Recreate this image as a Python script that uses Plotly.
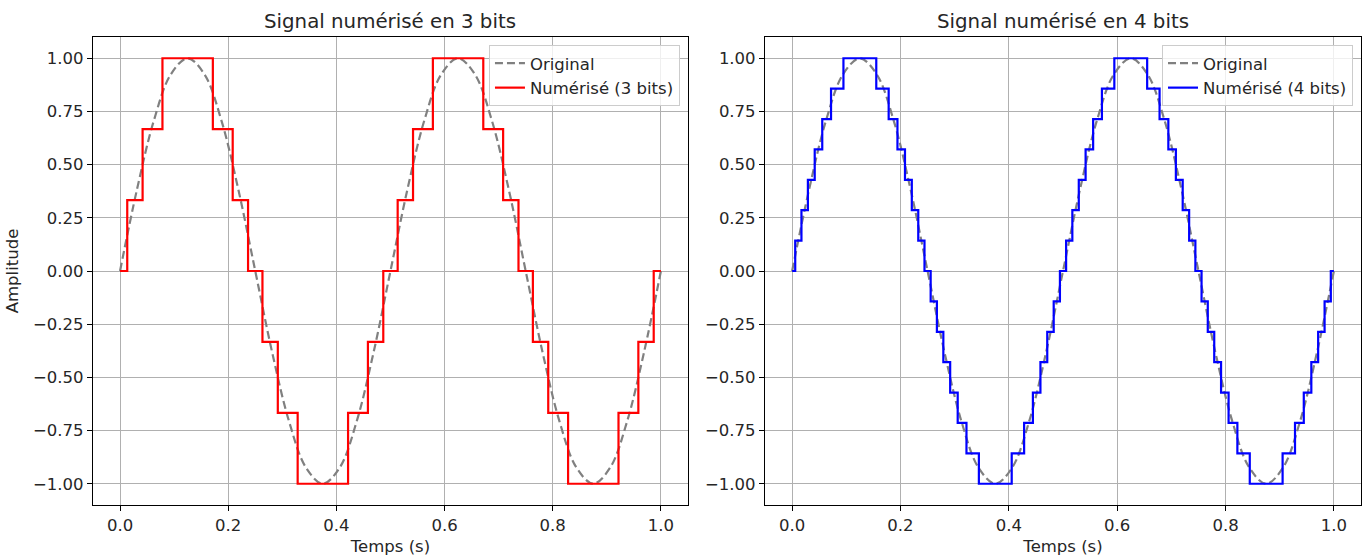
import plotly.graph_objects as go

# ---------------- data ----------------
# original sine (read at 1/32 s intervals)
t_orig = [i / 32 for i in range(33)]
v_orig = [0.0, 0.3827, 0.7071, 0.9239, 1.0, 0.9239, 0.7071, 0.3827,
          0.0, -0.3827, -0.7071, -0.9239, -1.0, -0.9239, -0.7071, -0.3827,
          0.0, 0.3827, 0.7071, 0.9239, 1.0, 0.9239, 0.7071, 0.3827,
          0.0, -0.3827, -0.7071, -0.9239, -1.0, -0.9239, -0.7071, -0.3827,
          0.0]

# 3-bit quantized signal: step start times and levels
t_q3 = [0.0, 0.0133, 0.0417, 0.0784, 0.1716, 0.2083, 0.2367, 0.2633, 0.2917,
        0.3284, 0.4216, 0.4583, 0.4867, 0.5133, 0.5417, 0.5784, 0.6716, 0.7083,
        0.7367, 0.7633, 0.7917, 0.8284, 0.9216, 0.9583, 0.9867, 1.0]
v_q3 = [0.0, 0.3333, 0.6667, 1.0, 0.6667, 0.3333, 0.0, -0.3333, -0.6667,
        -1.0, -0.6667, -0.3333, 0.0, 0.3333, 0.6667, 1.0, 0.6667, 0.3333,
        0.0, -0.3333, -0.6667, -1.0, -0.6667, -0.3333, 0.0, 0.0]

# 4-bit quantized signal: step start times and levels
t_q4 = [0.0, 0.0057, 0.0172, 0.0291, 0.0417, 0.0556, 0.0718, 0.0947,
        0.1553, 0.1782, 0.1944, 0.2083, 0.2209, 0.2328, 0.2443, 0.2557,
        0.2672, 0.2791, 0.2917, 0.3056, 0.3218, 0.3447, 0.4053, 0.4282,
        0.4444, 0.4583, 0.4709, 0.4828, 0.4943,
        0.5057, 0.5172, 0.5291, 0.5417, 0.5556, 0.5718, 0.5947,
        0.6553, 0.6782, 0.6944, 0.7083, 0.7209, 0.7328, 0.7443, 0.7557,
        0.7672, 0.7791, 0.7917, 0.8056, 0.8218, 0.8447, 0.9053, 0.9282,
        0.9444, 0.9583, 0.9709, 0.9828, 0.9943, 1.0]
v_q4 = [0.0, 0.1429, 0.2857, 0.4286, 0.5714, 0.7143, 0.8571, 1.0,
        0.8571, 0.7143, 0.5714, 0.4286, 0.2857, 0.1429, 0.0, -0.1429,
        -0.2857, -0.4286, -0.5714, -0.7143, -0.8571, -1.0, -0.8571, -0.7143,
        -0.5714, -0.4286, -0.2857, -0.1429, 0.0,
        0.1429, 0.2857, 0.4286, 0.5714, 0.7143, 0.8571, 1.0,
        0.8571, 0.7143, 0.5714, 0.4286, 0.2857, 0.1429, 0.0, -0.1429,
        -0.2857, -0.4286, -0.5714, -0.7143, -0.8571, -1.0, -0.8571, -0.7143,
        -0.5714, -0.4286, -0.2857, -0.1429, 0.0, 0.0]

x_ticks = [0.0, 0.2, 0.4, 0.6, 0.8, 1.0]
y_ticks = [-1.0, -0.75, -0.5, -0.25, 0.0, 0.25, 0.5, 0.75, 1.0]
titles = ["Signal numérisé en 3 bits", "Signal numérisé en 4 bits"]
labels_q = ["Numérisé (3 bits)", "Numérisé (4 bits)"]
colors_q = ["#ff0000", "#0000ff"]

# ---------------- figure ----------------
FONT = "DejaVu Sans"
TXT = "#262626"
FS = 16.5
fig = go.Figure()

panels = [(t_q3, v_q3), (t_q4, v_q4)]
for i, (tq, vq) in enumerate(panels):
    xa = "x" if i == 0 else "x2"
    ya = "y" if i == 0 else "y2"
    lg = "legend" if i == 0 else "legend2"
    fig.add_trace(go.Scatter(
        x=t_orig, y=v_orig, mode="lines", name="Original",
        line=dict(color="rgba(128,128,128,1)", width=2.2, dash="8px,4px", shape="spline", smoothing=1.0),
        xaxis=xa, yaxis=ya, legend=lg))
    fig.add_trace(go.Scatter(
        x=tq, y=vq, mode="lines", name=labels_q[i],
        line=dict(color=colors_q[i], width=2.2, shape="hv"),
        xaxis=xa, yaxis=ya, legend=lg))

axis_common = dict(
    showgrid=True, gridcolor="#b0b0b0", gridwidth=1,
    showline=True, mirror=True, linecolor="#000000", linewidth=1.2,
    ticks="outside", ticklen=5, tickwidth=1.2, tickcolor="#000000",
    zeroline=False,
    tickfont=dict(family=FONT, size=FS, color=TXT),
)

d1 = [0.0, 0.4692]
d2 = [0.5300, 1.0]

fig.update_layout(
    width=1367, height=558,
    margin=dict(l=93, r=6, t=37, b=53),
    plot_bgcolor="white", paper_bgcolor="white",
    font=dict(family=FONT, size=FS, color=TXT),
    xaxis=dict(domain=d1, range=[-0.05, 1.05], tickvals=x_ticks, tickformat=".1f",
               title=dict(text="Temps (s)", font=dict(family=FONT, size=FS, color=TXT), standoff=6),
               anchor="y", **axis_common),
    yaxis=dict(domain=[0, 1], range=[-1.1, 1.1], tickvals=y_ticks, tickformat=".2f",
               title=dict(text="Amplitude", font=dict(family=FONT, size=FS, color=TXT), standoff=10),
               anchor="x", **axis_common),
    xaxis2=dict(domain=d2, range=[-0.05, 1.05], tickvals=x_ticks, tickformat=".1f",
                title=dict(text="Temps (s)", font=dict(family=FONT, size=FS, color=TXT), standoff=6),
                anchor="y2", **axis_common),
    yaxis2=dict(domain=[0, 1], range=[-1.1, 1.1], tickvals=y_ticks, tickformat=".2f",
                anchor="x2", **axis_common),
    legend=dict(x=0.4629, y=0.983, xanchor="right", yanchor="top",
                bgcolor="rgba(255,255,255,0.8)", bordercolor="#cccccc", borderwidth=1,
                font=dict(family=FONT, size=FS, color=TXT), tracegroupgap=0,
                itemwidth=30),
    legend2=dict(x=0.9937, y=0.983, xanchor="right", yanchor="top",
                 bgcolor="rgba(255,255,255,0.8)", bordercolor="#cccccc", borderwidth=1,
                 font=dict(family=FONT, size=FS, color=TXT), tracegroupgap=0,
                 itemwidth=30),
    showlegend=True,
)

for i, dom in enumerate([d1, d2]):
    fig.add_annotation(
        text=titles[i], xref="paper", yref="paper",
        x=(dom[0] + dom[1]) / 2, y=1.0, xanchor="center", yanchor="bottom",
        yshift=2, showarrow=False,
        font=dict(family=FONT, size=19.8, color=TXT))

fig.write_html("out.html",
               config={"displayModeBar": False},
               post_script="document.body.style.margin='0px';document.body.style.overflow='hidden';")
